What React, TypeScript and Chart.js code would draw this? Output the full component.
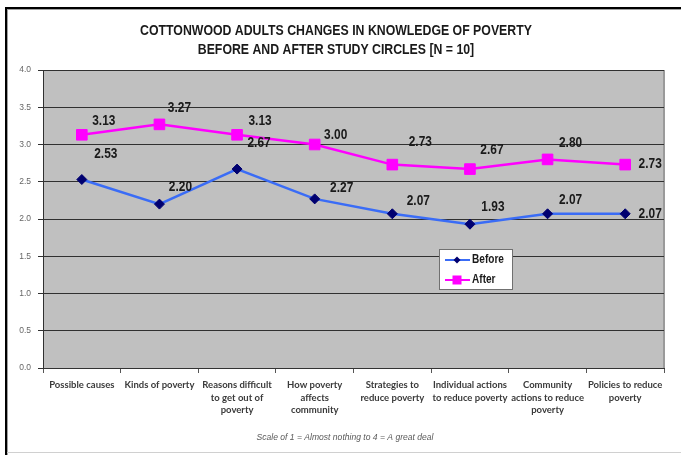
import React, { useEffect, useRef } from 'react';
import { Chart, registerables } from 'chart.js';

Chart.register(...registerables);

const categories: string[][] = [
  ['Possible causes'],
  ['Kinds of poverty'],
  ['Reasons difficult', 'to get out of', 'poverty'],
  ['How poverty', 'affects', 'community'],
  ['Strategies to', 'reduce poverty'],
  ['Individual actions', 'to reduce poverty'],
  ['Community', 'actions to reduce', 'poverty'],
  ['Policies to reduce', 'poverty'],
];
const beforeValues = [2.53, 2.2, 2.67, 2.27, 2.07, 1.93, 2.07, 2.07];
const afterValues = [3.13, 3.27, 3.13, 3.0, 2.73, 2.67, 2.8, 2.73];
const seriesNames = ['Before', 'After'];
const titleLines = [
  'COTTONWOOD ADULTS CHANGES IN KNOWLEDGE OF POVERTY',
  'BEFORE AND AFTER STUDY CIRCLES [N = 10]',
];
const footnote = 'Scale of 1 = Almost nothing to 4 = A great deal';
const yMin = 0;
const yMax = 4;
const yStep = 0.5;

// label placement offsets (style only), relative to each point
const beforeLabelOffsets = [[24, -25], [21, -17], [22, -26], [27, -11], [26, -13], [23, -17], [23, -14], [25, 0]];
const afterLabelOffsets = [[22, -14], [20, -16], [23, -14], [21, -9], [28, -22], [22, -19], [23, -16], [25, 0]];

const SANS = "'Liberation Sans', Arial, sans-serif";
const BLUE_LINE = '#3a6cf6';
const NAVY = '#000070';
const MAGENTA = '#ff00ff';

function fillCondensed(ctx: CanvasRenderingContext2D, text: string, x: number, y: number, sx: number) {
  ctx.save();
  ctx.translate(x, y);
  ctx.scale(sx, 1);
  ctx.fillText(text, 0, 0);
  ctx.restore();
}

const decorPlugin = {
  id: 'decor',
  beforeDraw(chart: any) {
    const { ctx, chartArea: a, width, height } = chart;
    ctx.save();
    ctx.fillStyle = '#ffffff';
    ctx.fillRect(0, 0, width, height);
    // outer frame
    ctx.fillStyle = '#000000';
    ctx.fillRect(5, 7, 2, height - 7);
    ctx.fillRect(5, 7, width - 5, 2);
    ctx.fillStyle = '#a0a0a0';
    ctx.fillRect(7, 9, 1, height - 9);
    ctx.fillRect(7, 9, width - 7, 1);
    ctx.fillStyle = '#d0d0d0';
    ctx.fillRect(7, height - 3, width - 7, 1);
    // plot background
    ctx.fillStyle = '#c0c0c0';
    ctx.fillRect(a.left, a.top, a.right - a.left, a.bottom - a.top);
    // right shadow edge
    ctx.fillStyle = '#9a9a9a';
    ctx.fillRect(a.right - 1, a.top, 2, a.bottom - a.top + 1);
    // title
    ctx.fillStyle = '#1a1a1a';
    ctx.font = `bold 15px ${SANS}`;
    ctx.textAlign = 'center';
    ctx.textBaseline = 'middle';
    const cx = 336;
    titleLines.forEach((t, i) => fillCondensed(ctx, t, cx, 31 + i * 19, 0.82));
    // footnote
    ctx.fillStyle = '#5a5a5a';
    ctx.font = `italic 9px ${SANS}`;
    fillCondensed(ctx, footnote, 345, 437, 0.95);
    ctx.restore();
  },
  afterDatasetsDraw(chart: any) {
    const { ctx } = chart;
    ctx.save();
    ctx.font = `bold 14px ${SANS}`;
    ctx.fillStyle = '#1a1a1a';
    ctx.textAlign = 'center';
    ctx.textBaseline = 'middle';
    const offs = [beforeLabelOffsets, afterLabelOffsets];
    chart.data.datasets.forEach((ds: any, di: number) => {
      const meta = chart.getDatasetMeta(di);
      meta.data.forEach((pt: any, i: number) => {
        const [dx, dy] = offs[di][i];
        fillCondensed(ctx, (ds.data[i] as number).toFixed(2), pt.x + dx, pt.y + dy, 0.85);
      });
    });
    // legend
    const lx = 439, ly = 249, lw = 74, lh = 41;
    ctx.fillStyle = '#ffffff';
    ctx.fillRect(lx, ly, lw, lh);
    ctx.strokeStyle = '#707070';
    ctx.lineWidth = 1;
    ctx.strokeRect(lx + 0.5, ly + 0.5, lw - 1, lh - 1);
    const rows = [
      { name: seriesNames[0], color: BLUE_LINE, style: 'rectRot', fill: NAVY, y: ly + 11 },
      { name: seriesNames[1], color: MAGENTA, style: 'rect', fill: MAGENTA, y: ly + 31 },
    ];
    rows.forEach((row) => {
      ctx.strokeStyle = row.color;
      ctx.lineWidth = 2;
      ctx.beginPath();
      ctx.moveTo(lx + 6, row.y);
      ctx.lineTo(lx + 31, row.y);
      ctx.stroke();
      ctx.fillStyle = row.fill;
      if (row.style === 'rect') {
        ctx.fillRect(lx + 18 - 4.5, row.y - 4.5, 9, 9);
      } else {
        ctx.beginPath();
        ctx.moveTo(lx + 18, row.y - 3.5);
        ctx.lineTo(lx + 21.5, row.y);
        ctx.lineTo(lx + 18, row.y + 3.5);
        ctx.lineTo(lx + 14.5, row.y);
        ctx.closePath();
        ctx.fill();
      }
      ctx.fillStyle = '#1a1a1a';
      ctx.font = `bold 12px ${SANS}`;
      ctx.textAlign = 'left';
      fillCondensed(ctx, row.name, lx + 33, row.y, 0.84);
    });
    ctx.restore();
  },
};

export default function App() {
  const ref = useRef<HTMLCanvasElement | null>(null);
  useEffect(() => {
    if (!ref.current) return;
    const chart = new Chart(ref.current, {
      type: 'line',
      data: {
        labels: categories,
        datasets: [
          {
            label: seriesNames[0],
            data: beforeValues,
            borderColor: BLUE_LINE,
            borderWidth: 2.5,
            pointStyle: 'rectRot',
            pointRadius: 5,
            pointBackgroundColor: NAVY,
            pointBorderColor: NAVY,
            pointBorderWidth: 1,
            tension: 0,
          },
          {
            label: seriesNames[1],
            data: afterValues,
            borderColor: MAGENTA,
            borderWidth: 2.5,
            pointStyle: 'rect',
            pointRadius: 7.5,
            pointBackgroundColor: MAGENTA,
            pointBorderColor: MAGENTA,
            pointBorderWidth: 1,
            tension: 0,
          },
        ],
      },
      options: {
        responsive: false,
        animation: false,
        devicePixelRatio: 1,
        layout: { padding: { top: 70, left: 0, right: 17, bottom: 0 } },
        plugins: { legend: { display: false }, title: { display: false }, tooltip: { enabled: false } },
        scales: {
          x: {
            type: 'category',
            offset: true,
            grid: { display: true, drawOnChartArea: false, offset: true, tickLength: 5, color: '#555555' },
            border: { color: '#333333', width: 1 },
            ticks: {
              color: '#3a3a3a',
              font: { family: "Lato, 'Liberation Sans', sans-serif", size: 9.5, weight: 'bold', lineHeight: '12.5px' },
              padding: 6,
              maxRotation: 0,
              minRotation: 0,
              autoSkip: false,
            },
            afterFit: (s: any) => { s.height = 87; },
          },
          y: {
            min: yMin,
            max: yMax,
            grid: { color: '#303030', lineWidth: 1, tickLength: 5 },
            border: { color: '#303030', width: 1 },
            ticks: {
              stepSize: yStep,
              color: '#666666',
              font: { family: SANS, size: 8.5 },
              padding: 7,
              callback: (v: any) => Number(v).toFixed(1),
            },
            afterFit: (s: any) => { s.width = 43; },
          },
        },
      },
      plugins: [decorPlugin],
    } as any);
    return () => chart.destroy();
  }, []);
  return (
    <canvas
      ref={ref}
      width={681}
      height={455}
      style={{ position: 'absolute', left: 0, top: 0, width: 681, height: 455 }}
    />
  );
}
